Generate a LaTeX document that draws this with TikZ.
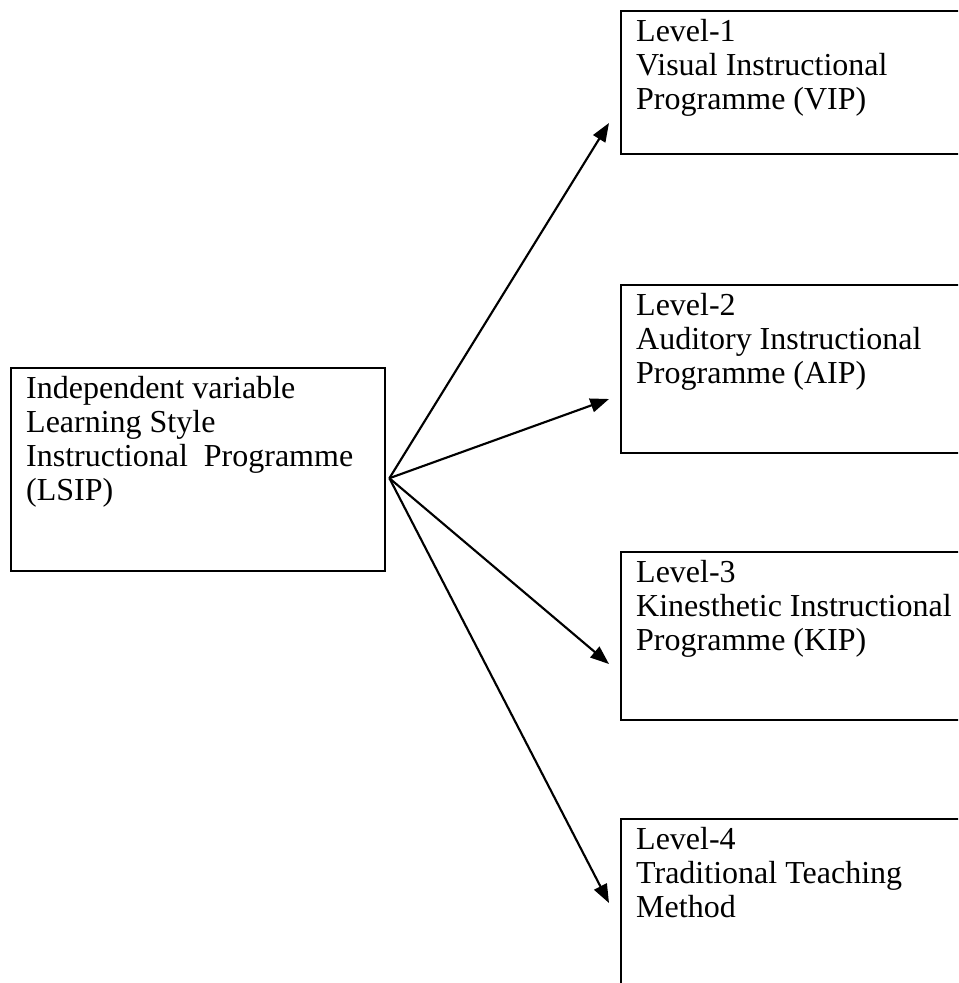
\documentclass[tikz,border=0pt]{standalone}
\usepackage{fontspec}
\setmainfont{Liberation Serif}
\usetikzlibrary{arrows.meta,calc}
\newcommand{\boxtext}[3]{\parbox[c][#2][t]{#1}{\fontsize{24}{25.6}\selectfont\raggedright\leftskip=11.25pt\relax
\vspace*{\dimexpr22.5pt-\ht\strutbox\relax}\strut #3}}
\begin{document}
\begin{tikzpicture}[x=0.75pt,y=-0.75pt,
  boxnode/.style={draw=black, line width=1.8pt, inner sep=0pt, anchor=north west},
  conn/.style={draw=black, line width=1.6pt, -{Triangle[length=14pt,width=10.5pt]}}]
\useasboundingbox (0,0) rectangle (958,983);
\clip (0,0) rectangle (958,983);
\fill[white] (0,0) rectangle (958,983);
\node[boxnode] (lsip) at (10,367) {\boxtext{280.5pt}{152.25pt}{Independent variable\\Learning Style\\Instructional\ \ Programme\\(LSIP)}};
\node[boxnode] (b1) at (620,10) {\boxtext{285pt}{107.25pt}{Level-1\\Visual Instructional\\Programme (VIP)}};
\node[boxnode] (b2) at (620,284) {\boxtext{285pt}{126pt}{Level-2\\Auditory Instructional\\Programme (AIP)}};
\node[boxnode] (b3) at (620,551) {\boxtext{285pt}{126pt}{Level-3\\Kinesthetic Instructional\\Programme (KIP)}};
\node[boxnode] (b4) at (620,818) {\boxtext{285pt}{136.5pt}{Level-4\\Traditional Teaching\\Method}};
\coordinate (o) at ($(lsip.east)+(3,8.5)$);
\coordinate (t1) at ($(b1.north west)+(-11,113)$);
\coordinate (t2) at ($(b2.north west)+(-11,115)$);
\coordinate (t3) at ($(b3.north west)+(-11,113)$);
\coordinate (t4) at ($(b4.north west)+(-11,85)$);
\draw[conn] (o) -- (t1);
\draw[conn] (o) -- (t2);
\draw[conn] (o) -- (t3);
\draw[conn] (o) -- (t4);
\end{tikzpicture}
\end{document}
